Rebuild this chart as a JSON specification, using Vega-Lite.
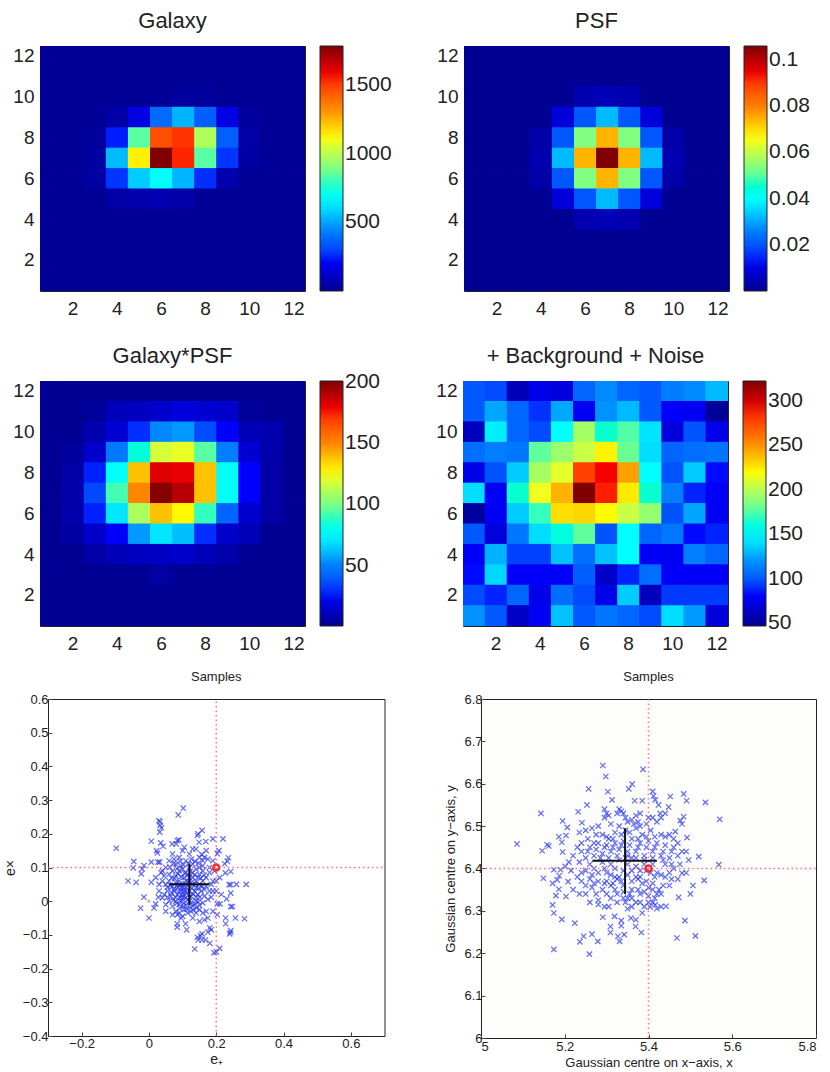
{"$schema":"https://vega.github.io/schema/vega-lite/v6.json","padding":{"left":1,"top":9,"right":0,"bottom":0},"background":"white",
"config":{"font":"Liberation Sans","title":{"font":"Liberation Sans","fontWeight":"normal","color":"#222"},"view":{"stroke":"#222","strokeWidth":1},
"axis":{"labelFont":"Liberation Sans","titleFont":"Liberation Sans","titleFontWeight":"normal","labelColor":"#222","titleColor":"#222","grid":false,"domain":false},
"legend":{"labelFont":"Liberation Sans","labelColor":"#222","labelFontSize":21,"labelOffset":11,"gradientThickness":23,"gradientStrokeColor":"#222","gradientStrokeWidth":1,"labelOverlap":false,"offset":15,"padding":0}},
"datasets":{
"g":[{"x":1,"y":12,"v":15},{"x":2,"y":12,"v":15},{"x":3,"y":12,"v":15},{"x":4,"y":12,"v":15},{"x":5,"y":12,"v":15},{"x":6,"y":12,"v":15},{"x":7,"y":12,"v":15},{"x":8,"y":12,"v":15},{"x":9,"y":12,"v":15},{"x":10,"y":12,"v":15},{"x":11,"y":12,"v":15},{"x":12,"y":12,"v":15},
{"x":1,"y":11,"v":15},{"x":2,"y":11,"v":15},{"x":3,"y":11,"v":15},{"x":4,"y":11,"v":15},{"x":5,"y":11,"v":15},{"x":6,"y":11,"v":15},{"x":7,"y":11,"v":15},{"x":8,"y":11,"v":15},{"x":9,"y":11,"v":15},{"x":10,"y":11,"v":15},{"x":11,"y":11,"v":15},{"x":12,"y":11,"v":15},
{"x":1,"y":10,"v":15},{"x":2,"y":10,"v":15},{"x":3,"y":10,"v":15},{"x":4,"y":10,"v":15},{"x":5,"y":10,"v":15},{"x":6,"y":10,"v":15},{"x":7,"y":10,"v":32},{"x":8,"y":10,"v":30},{"x":9,"y":10,"v":15},{"x":10,"y":10,"v":15},{"x":11,"y":10,"v":15},{"x":12,"y":10,"v":15},
{"x":1,"y":9,"v":15},{"x":2,"y":9,"v":15},{"x":3,"y":9,"v":15},{"x":4,"y":9,"v":50},{"x":5,"y":9,"v":170},{"x":6,"y":9,"v":390},{"x":7,"y":9,"v":530},{"x":8,"y":9,"v":360},{"x":9,"y":9,"v":170},{"x":10,"y":9,"v":30},{"x":11,"y":9,"v":15},{"x":12,"y":9,"v":15},
{"x":1,"y":8,"v":15},{"x":2,"y":8,"v":15},{"x":3,"y":8,"v":30},{"x":4,"y":8,"v":240},{"x":5,"y":8,"v":840},{"x":6,"y":8,"v":1470},{"x":7,"y":8,"v":1520},{"x":8,"y":8,"v":980},{"x":9,"y":8,"v":360},{"x":10,"y":8,"v":50},{"x":11,"y":8,"v":15},{"x":12,"y":8,"v":15},
{"x":1,"y":7,"v":15},{"x":2,"y":7,"v":15},{"x":3,"y":7,"v":40},{"x":4,"y":7,"v":540},{"x":5,"y":7,"v":1140},{"x":6,"y":7,"v":1785},{"x":7,"y":7,"v":1540},{"x":8,"y":7,"v":840},{"x":9,"y":7,"v":270},{"x":10,"y":7,"v":40},{"x":11,"y":7,"v":15},{"x":12,"y":7,"v":15},
{"x":1,"y":6,"v":15},{"x":2,"y":6,"v":15},{"x":3,"y":6,"v":40},{"x":4,"y":6,"v":270},{"x":5,"y":6,"v":570},{"x":6,"y":6,"v":680},{"x":7,"y":6,"v":530},{"x":8,"y":6,"v":260},{"x":9,"y":6,"v":60},{"x":10,"y":6,"v":15},{"x":11,"y":6,"v":15},{"x":12,"y":6,"v":15},
{"x":1,"y":5,"v":15},{"x":2,"y":5,"v":15},{"x":3,"y":5,"v":15},{"x":4,"y":5,"v":50},{"x":5,"y":5,"v":60},{"x":6,"y":5,"v":70},{"x":7,"y":5,"v":55},{"x":8,"y":5,"v":15},{"x":9,"y":5,"v":15},{"x":10,"y":5,"v":15},{"x":11,"y":5,"v":15},{"x":12,"y":5,"v":15},
{"x":1,"y":4,"v":15},{"x":2,"y":4,"v":15},{"x":3,"y":4,"v":15},{"x":4,"y":4,"v":15},{"x":5,"y":4,"v":15},{"x":6,"y":4,"v":15},{"x":7,"y":4,"v":15},{"x":8,"y":4,"v":15},{"x":9,"y":4,"v":15},{"x":10,"y":4,"v":15},{"x":11,"y":4,"v":15},{"x":12,"y":4,"v":15},
{"x":1,"y":3,"v":15},{"x":2,"y":3,"v":15},{"x":3,"y":3,"v":15},{"x":4,"y":3,"v":15},{"x":5,"y":3,"v":15},{"x":6,"y":3,"v":15},{"x":7,"y":3,"v":15},{"x":8,"y":3,"v":15},{"x":9,"y":3,"v":15},{"x":10,"y":3,"v":15},{"x":11,"y":3,"v":15},{"x":12,"y":3,"v":15},
{"x":1,"y":2,"v":15},{"x":2,"y":2,"v":15},{"x":3,"y":2,"v":15},{"x":4,"y":2,"v":15},{"x":5,"y":2,"v":15},{"x":6,"y":2,"v":15},{"x":7,"y":2,"v":15},{"x":8,"y":2,"v":15},{"x":9,"y":2,"v":15},{"x":10,"y":2,"v":15},{"x":11,"y":2,"v":15},{"x":12,"y":2,"v":15},
{"x":1,"y":1,"v":15},{"x":2,"y":1,"v":15},{"x":3,"y":1,"v":15},{"x":4,"y":1,"v":15},{"x":5,"y":1,"v":15},{"x":6,"y":1,"v":15},{"x":7,"y":1,"v":15},{"x":8,"y":1,"v":15},{"x":9,"y":1,"v":15},{"x":10,"y":1,"v":15},{"x":11,"y":1,"v":15},{"x":12,"y":1,"v":15}],
"p":[{"x":1,"y":12,"v":0.0005},{"x":2,"y":12,"v":0.0005},{"x":3,"y":12,"v":0.0005},{"x":4,"y":12,"v":0.0005},{"x":5,"y":12,"v":0.0005},{"x":6,"y":12,"v":0.0005},{"x":7,"y":12,"v":0.0005},{"x":8,"y":12,"v":0.0005},{"x":9,"y":12,"v":0.0005},{"x":10,"y":12,"v":0.0005},{"x":11,"y":12,"v":0.0005},{"x":12,"y":12,"v":0.0005},
{"x":1,"y":11,"v":0.0005},{"x":2,"y":11,"v":0.0005},{"x":3,"y":11,"v":0.0005},{"x":4,"y":11,"v":0.0005},{"x":5,"y":11,"v":0.0005},{"x":6,"y":11,"v":0.0005},{"x":7,"y":11,"v":0.0005},{"x":8,"y":11,"v":0.0005},{"x":9,"y":11,"v":0.0005},{"x":10,"y":11,"v":0.0005},{"x":11,"y":11,"v":0.0005},{"x":12,"y":11,"v":0.0005},
{"x":1,"y":10,"v":0.0005},{"x":2,"y":10,"v":0.0005},{"x":3,"y":10,"v":0.0005},{"x":4,"y":10,"v":0.0005},{"x":5,"y":10,"v":0.0005},{"x":6,"y":10,"v":0.004},{"x":7,"y":10,"v":0.005},{"x":8,"y":10,"v":0.004},{"x":9,"y":10,"v":0.0005},{"x":10,"y":10,"v":0.0005},{"x":11,"y":10,"v":0.0005},{"x":12,"y":10,"v":0.0005},
{"x":1,"y":9,"v":0.0005},{"x":2,"y":9,"v":0.0005},{"x":3,"y":9,"v":0.0005},{"x":4,"y":9,"v":0.0005},{"x":5,"y":9,"v":0.009},{"x":6,"y":9,"v":0.02},{"x":7,"y":9,"v":0.032},{"x":8,"y":9,"v":0.02},{"x":9,"y":9,"v":0.009},{"x":10,"y":9,"v":0.0005},{"x":11,"y":9,"v":0.0005},{"x":12,"y":9,"v":0.0005},
{"x":1,"y":8,"v":0.0005},{"x":2,"y":8,"v":0.0005},{"x":3,"y":8,"v":0.0005},{"x":4,"y":8,"v":0.003},{"x":5,"y":8,"v":0.02},{"x":6,"y":8,"v":0.053},{"x":7,"y":8,"v":0.074},{"x":8,"y":8,"v":0.053},{"x":9,"y":8,"v":0.02},{"x":10,"y":8,"v":0.003},{"x":11,"y":8,"v":0.0005},{"x":12,"y":8,"v":0.0005},
{"x":1,"y":7,"v":0.0005},{"x":2,"y":7,"v":0.0005},{"x":3,"y":7,"v":0.0005},{"x":4,"y":7,"v":0.004},{"x":5,"y":7,"v":0.032},{"x":6,"y":7,"v":0.074},{"x":7,"y":7,"v":0.106},{"x":8,"y":7,"v":0.074},{"x":9,"y":7,"v":0.032},{"x":10,"y":7,"v":0.004},{"x":11,"y":7,"v":0.0005},{"x":12,"y":7,"v":0.0005},
{"x":1,"y":6,"v":0.0005},{"x":2,"y":6,"v":0.0005},{"x":3,"y":6,"v":0.0005},{"x":4,"y":6,"v":0.003},{"x":5,"y":6,"v":0.02},{"x":6,"y":6,"v":0.053},{"x":7,"y":6,"v":0.074},{"x":8,"y":6,"v":0.053},{"x":9,"y":6,"v":0.02},{"x":10,"y":6,"v":0.003},{"x":11,"y":6,"v":0.0005},{"x":12,"y":6,"v":0.0005},
{"x":1,"y":5,"v":0.0005},{"x":2,"y":5,"v":0.0005},{"x":3,"y":5,"v":0.0005},{"x":4,"y":5,"v":0.0005},{"x":5,"y":5,"v":0.009},{"x":6,"y":5,"v":0.02},{"x":7,"y":5,"v":0.032},{"x":8,"y":5,"v":0.02},{"x":9,"y":5,"v":0.009},{"x":10,"y":5,"v":0.0005},{"x":11,"y":5,"v":0.0005},{"x":12,"y":5,"v":0.0005},
{"x":1,"y":4,"v":0.0005},{"x":2,"y":4,"v":0.0005},{"x":3,"y":4,"v":0.0005},{"x":4,"y":4,"v":0.0005},{"x":5,"y":4,"v":0.0005},{"x":6,"y":4,"v":0.004},{"x":7,"y":4,"v":0.005},{"x":8,"y":4,"v":0.004},{"x":9,"y":4,"v":0.0005},{"x":10,"y":4,"v":0.0005},{"x":11,"y":4,"v":0.0005},{"x":12,"y":4,"v":0.0005},
{"x":1,"y":3,"v":0.0005},{"x":2,"y":3,"v":0.0005},{"x":3,"y":3,"v":0.0005},{"x":4,"y":3,"v":0.0005},{"x":5,"y":3,"v":0.0005},{"x":6,"y":3,"v":0.0005},{"x":7,"y":3,"v":0.0005},{"x":8,"y":3,"v":0.0005},{"x":9,"y":3,"v":0.0005},{"x":10,"y":3,"v":0.0005},{"x":11,"y":3,"v":0.0005},{"x":12,"y":3,"v":0.0005},
{"x":1,"y":2,"v":0.0005},{"x":2,"y":2,"v":0.0005},{"x":3,"y":2,"v":0.0005},{"x":4,"y":2,"v":0.0005},{"x":5,"y":2,"v":0.0005},{"x":6,"y":2,"v":0.0005},{"x":7,"y":2,"v":0.0005},{"x":8,"y":2,"v":0.0005},{"x":9,"y":2,"v":0.0005},{"x":10,"y":2,"v":0.0005},{"x":11,"y":2,"v":0.0005},{"x":12,"y":2,"v":0.0005},
{"x":1,"y":1,"v":0.0005},{"x":2,"y":1,"v":0.0005},{"x":3,"y":1,"v":0.0005},{"x":4,"y":1,"v":0.0005},{"x":5,"y":1,"v":0.0005},{"x":6,"y":1,"v":0.0005},{"x":7,"y":1,"v":0.0005},{"x":8,"y":1,"v":0.0005},{"x":9,"y":1,"v":0.0005},{"x":10,"y":1,"v":0.0005},{"x":11,"y":1,"v":0.0005},{"x":12,"y":1,"v":0.0005}],
"c":[{"x":1,"y":12,"v":2},{"x":2,"y":12,"v":2},{"x":3,"y":12,"v":2},{"x":4,"y":12,"v":2},{"x":5,"y":12,"v":2},{"x":6,"y":12,"v":2},{"x":7,"y":12,"v":2},{"x":8,"y":12,"v":2},{"x":9,"y":12,"v":2},{"x":10,"y":12,"v":2},{"x":11,"y":12,"v":2},{"x":12,"y":12,"v":2},
{"x":1,"y":11,"v":2},{"x":2,"y":11,"v":2},{"x":3,"y":11,"v":3},{"x":4,"y":11,"v":10},{"x":5,"y":11,"v":12},{"x":6,"y":11,"v":14},{"x":7,"y":11,"v":18},{"x":8,"y":11,"v":16},{"x":9,"y":11,"v":14},{"x":10,"y":11,"v":3},{"x":11,"y":11,"v":2},{"x":12,"y":11,"v":2},
{"x":1,"y":10,"v":2},{"x":2,"y":10,"v":2},{"x":3,"y":10,"v":8},{"x":4,"y":10,"v":16},{"x":5,"y":10,"v":30},{"x":6,"y":10,"v":52},{"x":7,"y":10,"v":55},{"x":8,"y":10,"v":36},{"x":9,"y":10,"v":25},{"x":10,"y":10,"v":10},{"x":11,"y":10,"v":8},{"x":12,"y":10,"v":2},
{"x":1,"y":9,"v":2},{"x":2,"y":9,"v":4},{"x":3,"y":9,"v":14},{"x":4,"y":9,"v":48},{"x":5,"y":9,"v":85},{"x":6,"y":9,"v":118},{"x":7,"y":9,"v":122},{"x":8,"y":9,"v":95},{"x":9,"y":9,"v":50},{"x":10,"y":9,"v":16},{"x":11,"y":9,"v":7},{"x":12,"y":9,"v":2},
{"x":1,"y":8,"v":2},{"x":2,"y":8,"v":6},{"x":3,"y":8,"v":28},{"x":4,"y":8,"v":78},{"x":5,"y":8,"v":138},{"x":6,"y":8,"v":182},{"x":7,"y":8,"v":180},{"x":8,"y":8,"v":138},{"x":9,"y":8,"v":78},{"x":10,"y":8,"v":25},{"x":11,"y":8,"v":6},{"x":12,"y":8,"v":2},
{"x":1,"y":7,"v":2},{"x":2,"y":7,"v":7},{"x":3,"y":7,"v":35},{"x":4,"y":7,"v":92},{"x":5,"y":7,"v":150},{"x":6,"y":7,"v":200},{"x":7,"y":7,"v":190},{"x":8,"y":7,"v":138},{"x":9,"y":7,"v":78},{"x":10,"y":7,"v":25},{"x":11,"y":7,"v":6},{"x":12,"y":7,"v":2},
{"x":1,"y":6,"v":2},{"x":2,"y":6,"v":7},{"x":3,"y":6,"v":28},{"x":4,"y":6,"v":70},{"x":5,"y":6,"v":110},{"x":6,"y":6,"v":138},{"x":7,"y":6,"v":127},{"x":8,"y":6,"v":90},{"x":9,"y":6,"v":42},{"x":10,"y":6,"v":15},{"x":11,"y":6,"v":6},{"x":12,"y":6,"v":2},
{"x":1,"y":5,"v":2},{"x":2,"y":5,"v":5},{"x":3,"y":5,"v":14},{"x":4,"y":5,"v":25},{"x":5,"y":5,"v":55},{"x":6,"y":5,"v":70},{"x":7,"y":5,"v":62},{"x":8,"y":5,"v":30},{"x":9,"y":5,"v":14},{"x":10,"y":5,"v":10},{"x":11,"y":5,"v":2},{"x":12,"y":5,"v":2},
{"x":1,"y":4,"v":2},{"x":2,"y":4,"v":2},{"x":3,"y":4,"v":6},{"x":4,"y":4,"v":10},{"x":5,"y":4,"v":12},{"x":6,"y":4,"v":13},{"x":7,"y":4,"v":14},{"x":8,"y":4,"v":10},{"x":9,"y":4,"v":7},{"x":10,"y":4,"v":2},{"x":11,"y":4,"v":2},{"x":12,"y":4,"v":2},
{"x":1,"y":3,"v":2},{"x":2,"y":3,"v":2},{"x":3,"y":3,"v":2},{"x":4,"y":3,"v":2},{"x":5,"y":3,"v":2},{"x":6,"y":3,"v":5},{"x":7,"y":3,"v":2},{"x":8,"y":3,"v":2},{"x":9,"y":3,"v":2},{"x":10,"y":3,"v":2},{"x":11,"y":3,"v":2},{"x":12,"y":3,"v":2},
{"x":1,"y":2,"v":2},{"x":2,"y":2,"v":2},{"x":3,"y":2,"v":2},{"x":4,"y":2,"v":2},{"x":5,"y":2,"v":2},{"x":6,"y":2,"v":2},{"x":7,"y":2,"v":2},{"x":8,"y":2,"v":2},{"x":9,"y":2,"v":2},{"x":10,"y":2,"v":2},{"x":11,"y":2,"v":2},{"x":12,"y":2,"v":2},
{"x":1,"y":1,"v":2},{"x":2,"y":1,"v":2},{"x":3,"y":1,"v":2},{"x":4,"y":1,"v":2},{"x":5,"y":1,"v":2},{"x":6,"y":1,"v":2},{"x":7,"y":1,"v":2},{"x":8,"y":1,"v":2},{"x":9,"y":1,"v":2},{"x":10,"y":1,"v":2},{"x":11,"y":1,"v":2},{"x":12,"y":1,"v":2}],
"n":[{"x":1,"y":12,"v":100},{"x":2,"y":12,"v":95},{"x":3,"y":12,"v":60},{"x":4,"y":12,"v":75},{"x":5,"y":12,"v":72},{"x":6,"y":12,"v":105},{"x":7,"y":12,"v":118},{"x":8,"y":12,"v":105},{"x":9,"y":12,"v":100},{"x":10,"y":12,"v":115},{"x":11,"y":12,"v":118},{"x":12,"y":12,"v":130},
{"x":1,"y":11,"v":100},{"x":2,"y":11,"v":125},{"x":3,"y":11,"v":105},{"x":4,"y":11,"v":88},{"x":5,"y":11,"v":125},{"x":6,"y":11,"v":78},{"x":7,"y":11,"v":120},{"x":8,"y":11,"v":130},{"x":9,"y":11,"v":100},{"x":10,"y":11,"v":80},{"x":11,"y":11,"v":78},{"x":12,"y":11,"v":50},
{"x":1,"y":10,"v":62},{"x":2,"y":10,"v":145},{"x":3,"y":10,"v":105},{"x":4,"y":10,"v":95},{"x":5,"y":10,"v":150},{"x":6,"y":10,"v":195},{"x":7,"y":10,"v":165},{"x":8,"y":10,"v":175},{"x":9,"y":10,"v":142},{"x":10,"y":10,"v":72},{"x":11,"y":10,"v":98},{"x":12,"y":10,"v":75},
{"x":1,"y":9,"v":108},{"x":2,"y":9,"v":115},{"x":3,"y":9,"v":112},{"x":4,"y":9,"v":178},{"x":5,"y":9,"v":192},{"x":6,"y":9,"v":205},{"x":7,"y":9,"v":222},{"x":8,"y":9,"v":180},{"x":9,"y":9,"v":140},{"x":10,"y":9,"v":105},{"x":11,"y":9,"v":108},{"x":12,"y":9,"v":110},
{"x":1,"y":8,"v":75},{"x":2,"y":8,"v":98},{"x":3,"y":8,"v":135},{"x":4,"y":8,"v":195},{"x":5,"y":8,"v":212},{"x":6,"y":8,"v":278},{"x":7,"y":8,"v":290},{"x":8,"y":8,"v":245},{"x":9,"y":8,"v":150},{"x":10,"y":8,"v":98},{"x":11,"y":8,"v":135},{"x":12,"y":8,"v":82},
{"x":1,"y":7,"v":140},{"x":2,"y":7,"v":78},{"x":3,"y":7,"v":165},{"x":4,"y":7,"v":215},{"x":5,"y":7,"v":240},{"x":6,"y":7,"v":322},{"x":7,"y":7,"v":285},{"x":8,"y":7,"v":225},{"x":9,"y":7,"v":165},{"x":10,"y":7,"v":115},{"x":11,"y":7,"v":85},{"x":12,"y":7,"v":80},
{"x":1,"y":6,"v":52},{"x":2,"y":6,"v":78},{"x":3,"y":6,"v":135},{"x":4,"y":6,"v":170},{"x":5,"y":6,"v":228},{"x":6,"y":6,"v":230},{"x":7,"y":6,"v":220},{"x":8,"y":6,"v":205},{"x":9,"y":6,"v":190},{"x":10,"y":6,"v":98},{"x":11,"y":6,"v":125},{"x":12,"y":6,"v":78},
{"x":1,"y":5,"v":100},{"x":2,"y":5,"v":72},{"x":3,"y":5,"v":112},{"x":4,"y":5,"v":140},{"x":5,"y":5,"v":160},{"x":6,"y":5,"v":178},{"x":7,"y":5,"v":98},{"x":8,"y":5,"v":150},{"x":9,"y":5,"v":105},{"x":10,"y":5,"v":112},{"x":11,"y":5,"v":82},{"x":12,"y":5,"v":85},
{"x":1,"y":4,"v":80},{"x":2,"y":4,"v":128},{"x":3,"y":4,"v":92},{"x":4,"y":4,"v":92},{"x":5,"y":4,"v":132},{"x":6,"y":4,"v":108},{"x":7,"y":4,"v":132},{"x":8,"y":4,"v":150},{"x":9,"y":4,"v":80},{"x":10,"y":4,"v":78},{"x":11,"y":4,"v":115},{"x":12,"y":4,"v":105},
{"x":1,"y":3,"v":82},{"x":2,"y":3,"v":138},{"x":3,"y":3,"v":80},{"x":4,"y":3,"v":80},{"x":5,"y":3,"v":80},{"x":6,"y":3,"v":102},{"x":7,"y":3,"v":65},{"x":8,"y":3,"v":85},{"x":9,"y":3,"v":108},{"x":10,"y":3,"v":80},{"x":11,"y":3,"v":80},{"x":12,"y":3,"v":80},
{"x":1,"y":2,"v":95},{"x":2,"y":2,"v":85},{"x":3,"y":2,"v":105},{"x":4,"y":2,"v":75},{"x":5,"y":2,"v":108},{"x":6,"y":2,"v":95},{"x":7,"y":2,"v":75},{"x":8,"y":2,"v":135},{"x":9,"y":2,"v":62},{"x":10,"y":2,"v":90},{"x":11,"y":2,"v":90},{"x":12,"y":2,"v":90},
{"x":1,"y":1,"v":120},{"x":2,"y":1,"v":100},{"x":3,"y":1,"v":65},{"x":4,"y":1,"v":78},{"x":5,"y":1,"v":132},{"x":6,"y":1,"v":100},{"x":7,"y":1,"v":112},{"x":8,"y":1,"v":105},{"x":9,"y":1,"v":95},{"x":10,"y":1,"v":140},{"x":11,"y":1,"v":122},{"x":12,"y":1,"v":70}],
"s1":[{"x":0.102,"y":0.276},{"x":0.087,"y":0.256},{"x":0.03,"y":0.239},{"x":0.033,"y":0.235},{"x":0.033,"y":0.225},{"x":0.037,"y":0.218},{"x":0.032,"y":0.205},{"x":-0.097,"y":0.157},{"x":0.007,"y":0.178},{"x":0.035,"y":0.173},{"x":0.042,"y":0.163},{"x":0.023,"y":0.15},{"x":0.025,"y":0.143},{"x":0.069,"y":0.17},{"x":0.084,"y":0.18},{"x":0.089,"y":0.182},{"x":0.081,"y":0.17},{"x":0.158,"y":0.21},{"x":0.146,"y":0.2},{"x":0.144,"y":0.195},{"x":0.149,"y":0.175},{"x":0.169,"y":0.177},{"x":0.19,"y":0.185},{"x":0.22,"y":0.185},{"x":-0.045,"y":0.118},{"x":-0.047,"y":0.099},{"x":-0.015,"y":0.106},{"x":-0.02,"y":0.096},{"x":-0.023,"y":0.081},{"x":0.007,"y":0.116},{"x":0.027,"y":0.116},{"x":0.032,"y":0.116},{"x":-0.062,"y":0.06},{"x":-0.038,"y":0.056},{"x":0.007,"y":0.056},{"x":-0.015,"y":0.012},{"x":-0.025,"y":-0.021},{"x":0,"y":-0.05},{"x":0.015,"y":-0.02},{"x":0.02,"y":-0.008},{"x":0.236,"y":0.129},{"x":0.233,"y":0.119},{"x":0.225,"y":0.111},{"x":0.243,"y":0.088},{"x":0.227,"y":0.084},{"x":0.208,"y":0.15},{"x":0.203,"y":0.141},{"x":0.243,"y":0.049},{"x":0.238,"y":0.049},{"x":0.26,"y":0.05},{"x":0.289,"y":0.05},{"x":0.243,"y":0.024},{"x":0.231,"y":0.007},{"x":0.243,"y":-0.016},{"x":0.248,"y":-0.016},{"x":0.203,"y":-0.008},{"x":0.211,"y":-0.008},{"x":0.257,"y":-0.05},{"x":0.284,"y":-0.052},{"x":0.228,"y":-0.05},{"x":0.228,"y":-0.067},{"x":0.203,"y":-0.04},{"x":0.243,"y":-0.087},{"x":0.24,"y":-0.097},{"x":0.242,"y":-0.092},{"x":0.181,"y":-0.079},{"x":0.185,"y":-0.085},{"x":0.175,"y":-0.092},{"x":0.153,"y":-0.102},{"x":0.158,"y":-0.097},{"x":0.144,"y":-0.107},{"x":0.146,"y":-0.115},{"x":0.158,"y":-0.115},{"x":0.168,"y":-0.115},{"x":0.181,"y":-0.125},{"x":0.136,"y":-0.142},{"x":0.21,"y":-0.14},{"x":0.193,"y":-0.153},{"x":0.2,"y":-0.151},{"x":0.112,"y":-0.085},{"x":0.084,"y":-0.077},{"x":0.084,"y":-0.067},{"x":0.109,"y":-0.067},{"x":0.095,"y":-0.05},{"x":0.085,"y":-0.04},{"x":0.1,"y":-0.045},{"x":0.15,"y":-0.06},{"x":0.165,"y":-0.055},{"x":0.175,"y":-0.05},{"x":0.19,"y":-0.03},{"x":0.17,"y":-0.03},
{"x":0.05,"y":0.1},{"x":0.06,"y":0.12},{"x":0.07,"y":0.14},{"x":0.08,"y":0.11},{"x":0.09,"y":0.13},{"x":0.1,"y":0.15},{"x":0.11,"y":0.12},{"x":0.12,"y":0.14},{"x":0.13,"y":0.11},{"x":0.14,"y":0.155},{"x":0.15,"y":0.13},{"x":0.16,"y":0.12},{"x":0.17,"y":0.15},{"x":0.18,"y":0.1},{"x":0.06,"y":0.08},{"x":0.07,"y":0.09},{"x":0.08,"y":0.075},{"x":0.09,"y":0.09},{"x":0.1,"y":0.095},{"x":0.11,"y":0.085},{"x":0.12,"y":0.1},{"x":0.13,"y":0.085},{"x":0.14,"y":0.095},{"x":0.15,"y":0.08},{"x":0.16,"y":0.09},{"x":0.17,"y":0.07},{"x":0.18,"y":0.085},{"x":0.19,"y":0.06},{"x":0.04,"y":0.06},{"x":0.05,"y":0.05},{"x":0.06,"y":0.06},{"x":0.07,"y":0.045},{"x":0.08,"y":0.055},{"x":0.09,"y":0.06},{"x":0.1,"y":0.05},{"x":0.11,"y":0.06},{"x":0.12,"y":0.07},{"x":0.13,"y":0.05},{"x":0.14,"y":0.06},{"x":0.15,"y":0.05},{"x":0.16,"y":0.06},{"x":0.17,"y":0.045},{"x":0.18,"y":0.03},{"x":0.19,"y":0.03},{"x":0.2,"y":0.03},{"x":0.03,"y":0.03},{"x":0.045,"y":0.02},{"x":0.055,"y":0.03},{"x":0.065,"y":0.015},{"x":0.075,"y":0.03},{"x":0.085,"y":0.02},{"x":0.095,"y":0.03},{"x":0.105,"y":0.02},{"x":0.115,"y":0.035},{"x":0.125,"y":0.015},{"x":0.135,"y":0.03},{"x":0.145,"y":0.02},{"x":0.155,"y":0.03},{"x":0.165,"y":0.015},{"x":0.175,"y":0.005},{"x":0.05,"y":-0.01},{"x":0.06,"y":0},{"x":0.07,"y":-0.015},{"x":0.08,"y":0},{"x":0.09,"y":-0.01},{"x":0.1,"y":0.005},{"x":0.11,"y":-0.012},{"x":0.12,"y":0},{"x":0.13,"y":-0.015},{"x":0.14,"y":0.002},{"x":0.15,"y":-0.012},{"x":0.16,"y":-0.005},{"x":0.08,"y":-0.03},{"x":0.09,"y":-0.035},{"x":0.105,"y":-0.025},{"x":0.115,"y":-0.035},{"x":0.125,"y":-0.03},{"x":0.14,"y":-0.035},{"x":0.15,"y":-0.025},{"x":0.16,"y":-0.035},{"x":0.05,"y":-0.03},{"x":0.04,"y":0.01},{"x":0.03,"y":0.05},{"x":0.02,"y":0.07},{"x":0.04,"y":0.09},{"x":0.075,"y":0.125},{"x":0.095,"y":0.105},{"x":0.105,"y":0.07},{"x":0.115,"y":0.045},{"x":0.125,"y":0.055},{"x":0.095,"y":0.04},{"x":0.085,"y":0.04},{"x":0.105,"y":0.035},{"x":0.1,"y":0.012},{"x":0.11,"y":0.01},{"x":0.09,"y":0.01},{"x":0.12,"y":0.03},{"x":0.13,"y":0.07},{"x":0.14,"y":0.04},{"x":0.15,"y":0.1},{"x":0.16,"y":0.105},{"x":0.175,"y":0.125},{"x":0.19,"y":0.12},{"x":0.2,"y":0.06},{"x":0.21,"y":0.07},{"x":0.215,"y":0.02},
{"x":0.062,"y":0.101},{"x":0.073,"y":0.112},{"x":0.084,"y":0.097},{"x":0.093,"y":0.118},{"x":0.103,"y":0.108},{"x":0.117,"y":0.112},{"x":0.126,"y":0.125},{"x":0.137,"y":0.118},{"x":0.147,"y":0.113},{"x":0.157,"y":0.139},{"x":0.067,"y":0.069},{"x":0.076,"y":0.067},{"x":0.086,"y":0.081},{"x":0.096,"y":0.073},{"x":0.106,"y":0.083},{"x":0.116,"y":0.078},{"x":0.123,"y":0.088},{"x":0.136,"y":0.078},{"x":0.146,"y":0.071},{"x":0.154,"y":0.068},{"x":0.164,"y":0.077},{"x":0.055,"y":0.041},{"x":0.064,"y":0.047},{"x":0.074,"y":0.036},{"x":0.083,"y":0.046},{"x":0.092,"y":0.049},{"x":0.102,"y":0.041},{"x":0.108,"y":0.052},{"x":0.118,"y":0.056},{"x":0.128,"y":0.039},{"x":0.137,"y":0.051},{"x":0.147,"y":0.038},{"x":0.158,"y":0.044},{"x":0.068,"y":0.024},{"x":0.079,"y":0.012},{"x":0.088,"y":0.028},{"x":0.098,"y":0.018},{"x":0.103,"y":0.028},{"x":0.112,"y":0.024},{"x":0.121,"y":0.012},{"x":0.131,"y":0.021},{"x":0.141,"y":0.012},{"x":0.151,"y":0.012},{"x":0.072,"y":0.003},{"x":0.083,"y":-0.006},{"x":0.094,"y":0},{"x":0.104,"y":-0.006},{"x":0.116,"y":0.004},{"x":0.126,"y":-0.004},{"x":0.136,"y":-0.008},{"x":0.146,"y":-0.002},{"x":0.092,"y":-0.021},{"x":0.102,"y":-0.015},{"x":0.112,"y":-0.024},{"x":0.122,"y":-0.018},{"x":0.132,"y":-0.026},{"x":0.142,"y":-0.02},{"x":0.045,"y":0.075},{"x":0.036,"y":0.085},{"x":0.028,"y":0.012},{"x":0.055,"y":0.012},{"x":0.07,"y":-0.04},{"x":0.13,"y":-0.05},{"x":0.185,"y":0.012},{"x":0.165,"y":0.035},{"x":0.185,"y":0.05},{"x":0.195,"y":0.09},{"x":0.165,"y":0.13},{"x":0.13,"y":0.155},{"x":0.105,"y":0.16}],
"s2":[{"x":5.291,"y":6.643},{"x":5.387,"y":6.634},{"x":5.298,"y":6.617},{"x":5.257,"y":6.588},{"x":5.303,"y":6.581},{"x":5.313,"y":6.562},{"x":5.361,"y":6.599},{"x":5.353,"y":6.588},{"x":5.41,"y":6.582},{"x":5.412,"y":6.571},{"x":5.416,"y":6.562},{"x":5.452,"y":6.57},{"x":5.484,"y":6.576},{"x":5.491,"y":6.56},{"x":5.536,"y":6.556},{"x":5.367,"y":6.56},{"x":5.385,"y":6.56},{"x":5.253,"y":6.55},{"x":5.232,"y":6.534},{"x":5.143,"y":6.53},{"x":5.195,"y":6.512},{"x":5.206,"y":6.497},{"x":5.241,"y":6.508},{"x":5.57,"y":6.516},{"x":5.448,"y":6.545},{"x":5.424,"y":6.55},{"x":5.428,"y":6.53},{"x":5.484,"y":6.522},{"x":5.476,"y":6.513},{"x":5.48,"y":6.505},{"x":5.464,"y":6.487},{"x":5.492,"y":6.473},{"x":5.086,"y":6.458},{"x":5.146,"y":6.442},{"x":5.158,"y":6.456},{"x":5.162,"y":6.453},{"x":5.186,"y":6.475},{"x":5.193,"y":6.462},{"x":5.203,"y":6.478},{"x":5.195,"y":6.439},{"x":5.149,"y":6.377},{"x":5.171,"y":6.365},{"x":5.182,"y":6.373},{"x":5.174,"y":6.397},{"x":5.19,"y":6.397},{"x":5.201,"y":6.405},{"x":5.187,"y":6.383},{"x":5.186,"y":6.351},{"x":5.208,"y":6.369},{"x":5.203,"y":6.334},{"x":5.179,"y":6.336},{"x":5.171,"y":6.314},{"x":5.174,"y":6.295},{"x":5.193,"y":6.28},{"x":5.224,"y":6.271},{"x":5.174,"y":6.209},{"x":5.259,"y":6.198},{"x":5.236,"y":6.227},{"x":5.245,"y":6.24},{"x":5.265,"y":6.245},{"x":5.279,"y":6.228},{"x":5.291,"y":6.285},{"x":5.319,"y":6.287},{"x":5.309,"y":6.263},{"x":5.309,"y":6.249},{"x":5.335,"y":6.277},{"x":5.335,"y":6.265},{"x":5.327,"y":6.24},{"x":5.342,"y":6.244},{"x":5.331,"y":6.228},{"x":5.358,"y":6.283},{"x":5.37,"y":6.279},{"x":5.369,"y":6.263},{"x":5.383,"y":6.249},{"x":5.468,"y":6.236},{"x":5.512,"y":6.241},{"x":5.487,"y":6.277},{"x":5.472,"y":6.332},{"x":5.5,"y":6.34},{"x":5.506,"y":6.36},{"x":5.533,"y":6.372},{"x":5.48,"y":6.389},{"x":5.568,"y":6.409},{"x":5.52,"y":6.428},{"x":5.496,"y":6.42},{"x":5.442,"y":6.311},{"x":5.416,"y":6.314},{"x":5.404,"y":6.309},{"x":5.385,"y":6.295},
{"x":5.3,"y":6.53},{"x":5.295,"y":6.52},{"x":5.33,"y":6.54},{"x":5.335,"y":6.535},{"x":5.34,"y":6.53},{"x":5.37,"y":6.525},{"x":5.38,"y":6.53},{"x":5.36,"y":6.515},{"x":5.35,"y":6.51},{"x":5.4,"y":6.52},{"x":5.42,"y":6.51},{"x":5.44,"y":6.53},{"x":5.31,"y":6.505},{"x":5.28,"y":6.5},{"x":5.265,"y":6.495},{"x":5.25,"y":6.49},{"x":5.235,"y":6.485},{"x":5.29,"y":6.48},{"x":5.32,"y":6.485},{"x":5.345,"y":6.49},{"x":5.37,"y":6.495},{"x":5.385,"y":6.48},{"x":5.405,"y":6.49},{"x":5.43,"y":6.48},{"x":5.45,"y":6.48},{"x":5.47,"y":6.46},{"x":5.49,"y":6.44},{"x":5.48,"y":6.44},{"x":5.46,"y":6.45},{"x":5.44,"y":6.455},{"x":5.42,"y":6.46},{"x":5.4,"y":6.465},{"x":5.38,"y":6.46},{"x":5.36,"y":6.47},{"x":5.34,"y":6.465},{"x":5.32,"y":6.46},{"x":5.3,"y":6.455},{"x":5.28,"y":6.46},{"x":5.26,"y":6.45},{"x":5.24,"y":6.44},{"x":5.22,"y":6.43},{"x":5.25,"y":6.425},{"x":5.27,"y":6.43},{"x":5.29,"y":6.435},{"x":5.31,"y":6.44},{"x":5.33,"y":6.445},{"x":5.35,"y":6.44},{"x":5.37,"y":6.44},{"x":5.39,"y":6.43},{"x":5.41,"y":6.44},{"x":5.43,"y":6.43},{"x":5.45,"y":6.425},{"x":5.47,"y":6.43},{"x":5.44,"y":6.41},{"x":5.46,"y":6.4},{"x":5.42,"y":6.39},{"x":5.44,"y":6.38},{"x":5.45,"y":6.39},{"x":5.41,"y":6.41},{"x":5.39,"y":6.41},{"x":5.37,"y":6.405},{"x":5.35,"y":6.41},{"x":5.33,"y":6.42},{"x":5.31,"y":6.41},{"x":5.29,"y":6.415},{"x":5.27,"y":6.4},{"x":5.25,"y":6.395},{"x":5.23,"y":6.38},{"x":5.215,"y":6.395},{"x":5.24,"y":6.37},{"x":5.26,"y":6.375},{"x":5.28,"y":6.37},{"x":5.3,"y":6.37},{"x":5.32,"y":6.38},{"x":5.325,"y":6.375},{"x":5.33,"y":6.38},{"x":5.35,"y":6.385},{"x":5.37,"y":6.38},{"x":5.375,"y":6.375},{"x":5.38,"y":6.38},{"x":5.395,"y":6.37},{"x":5.41,"y":6.365},{"x":5.425,"y":6.35},{"x":5.42,"y":6.34},{"x":5.41,"y":6.35},{"x":5.4,"y":6.335},{"x":5.38,"y":6.34},{"x":5.36,"y":6.35},{"x":5.34,"y":6.36},{"x":5.32,"y":6.35},{"x":5.31,"y":6.36},{"x":5.29,"y":6.35},{"x":5.265,"y":6.355},{"x":5.25,"y":6.34},{"x":5.235,"y":6.34},{"x":5.22,"y":6.35},{"x":5.26,"y":6.32},{"x":5.28,"y":6.315},{"x":5.295,"y":6.31},{"x":5.31,"y":6.33},{"x":5.34,"y":6.33},{"x":5.345,"y":6.32},{"x":5.36,"y":6.31},{"x":5.37,"y":6.32},{"x":5.39,"y":6.31},{"x":5.41,"y":6.32},{"x":5.43,"y":6.31},{"x":5.305,"y":6.47},{"x":5.33,"y":6.5},{"x":5.38,"y":6.5},{"x":5.35,"y":6.43},{"x":5.36,"y":6.425},{"x":5.3,"y":6.39},{"x":5.31,"y":6.385},{"x":5.28,"y":6.39},{"x":5.34,"y":6.345},{"x":5.395,"y":6.395},{"x":5.4,"y":6.355},{"x":5.45,"y":6.36},{"x":5.47,"y":6.375},{"x":5.49,"y":6.39},{"x":5.27,"y":6.46},{"x":5.24,"y":6.46},
{"x":5.295,"y":6.54},{"x":5.305,"y":6.525},{"x":5.325,"y":6.53},{"x":5.345,"y":6.52},{"x":5.365,"y":6.505},{"x":5.375,"y":6.51},{"x":5.395,"y":6.505},{"x":5.41,"y":6.52},{"x":5.43,"y":6.52},{"x":5.46,"y":6.47},{"x":5.275,"y":6.48},{"x":5.255,"y":6.47},{"x":5.3,"y":6.475},{"x":5.315,"y":6.47},{"x":5.335,"y":6.48},{"x":5.355,"y":6.485},{"x":5.375,"y":6.47},{"x":5.395,"y":6.475},{"x":5.415,"y":6.475},{"x":5.44,"y":6.475},{"x":5.23,"y":6.45},{"x":5.255,"y":6.44},{"x":5.275,"y":6.445},{"x":5.295,"y":6.45},{"x":5.315,"y":6.45},{"x":5.335,"y":6.455},{"x":5.355,"y":6.455},{"x":5.375,"y":6.45},{"x":5.395,"y":6.45},{"x":5.415,"y":6.45},{"x":5.435,"y":6.44},{"x":5.455,"y":6.44},{"x":5.21,"y":6.415},{"x":5.235,"y":6.415},{"x":5.26,"y":6.41},{"x":5.285,"y":6.425},{"x":5.305,"y":6.425},{"x":5.325,"y":6.43},{"x":5.345,"y":6.425},{"x":5.37,"y":6.425},{"x":5.39,"y":6.42},{"x":5.41,"y":6.425},{"x":5.435,"y":6.42},{"x":5.455,"y":6.41},{"x":5.475,"y":6.41},{"x":5.24,"y":6.39},{"x":5.265,"y":6.385},{"x":5.295,"y":6.4},{"x":5.32,"y":6.4},{"x":5.34,"y":6.395},{"x":5.36,"y":6.395},{"x":5.38,"y":6.395},{"x":5.405,"y":6.39},{"x":5.43,"y":6.385},{"x":5.455,"y":6.375},{"x":5.25,"y":6.36},{"x":5.27,"y":6.365},{"x":5.295,"y":6.365},{"x":5.315,"y":6.365},{"x":5.335,"y":6.37},{"x":5.36,"y":6.37},{"x":5.385,"y":6.365},{"x":5.415,"y":6.38},{"x":5.435,"y":6.36},{"x":5.275,"y":6.34},{"x":5.3,"y":6.34},{"x":5.325,"y":6.34},{"x":5.355,"y":6.34},{"x":5.375,"y":6.35},{"x":5.39,"y":6.345},{"x":5.415,"y":6.33},{"x":5.43,"y":6.34},{"x":5.28,"y":6.325},{"x":5.305,"y":6.31},{"x":5.325,"y":6.32},{"x":5.35,"y":6.305},{"x":5.38,"y":6.32},{"x":5.4,"y":6.32},{"x":5.42,"y":6.305},{"x":5.35,"y":6.33},{"x":5.36,"y":6.33}],
"r":[{"x":0.2,"y":-0.4,"x2":0.2,"y2":0.6},{"x":-0.3,"y":0.1,"x2":0.7,"y2":0.1}],
"k":[{"x":0.06,"y":0.05,"x2":0.18,"y2":0.05},{"x":0.12,"y":-0.012,"x2":0.12,"y2":0.112}],
"r2":[{"x":5.4,"y":6,"x2":5.4,"y2":6.8},{"x":5,"y":6.4,"x2":5.8,"y2":6.4}],
"k2":[{"x":5.266,"y":6.418,"x2":5.42,"y2":6.418},{"x":5.344,"y":6.34,"x2":5.344,"y2":6.495}]},
"resolve":{"scale":{"color":"independent"},"legend":{"color":"independent"}},"spacing":16,
"vconcat":[{"resolve":{"scale":{"color":"independent"},"legend":{"color":"independent"}},"spacing":0,"hconcat":[
{"width":11,"height":1,"view":{"stroke":null},"data":{"values":[{}]},"mark":{"type":"rect","opacity":0},"encoding":{}},
{"resolve":{"scale":{"color":"independent"},"legend":{"color":"independent"}},"spacing":25,"vconcat":[
{"resolve":{"scale":{"color":"independent"},"legend":{"color":"independent"}},"spacing":43,"hconcat":[
{"width":265,"height":245,"title":{"text":"Galaxy","fontSize":22,"offset":13},"data":{"name":"g"},"mark":{"type":"rect","width":{"band":1.04},"height":{"band":1.04},"clip":true},"encoding":{"x":{"field":"x","type":"ordinal","title":null,"axis":{"values":[2,4,6,8,10,12],"labelAngle":0,"labelFontSize":19,"ticks":false,"labelPadding":8}},"y":{"field":"y","type":"ordinal","sort":"descending","title":null,"axis":{"values":[2,4,6,8,10,12],"labelFontSize":19,"ticks":false,"labelPadding":6}},"color":{"field":"v","type":"quantitative","scale":{"domain":[0,223,446,669,893,1116,1339,1562,1785],"range":["#00008f","#0000ff","#0080ff","#00ffff","#80ff80","#ffff00","#ff8000","#ff0000","#800000"]},"legend":{"type":"gradient","title":null,"gradientLength":245,"values":[500,1000,1500],"format":"d"}}}},
{"width":265,"height":245,"title":{"text":"PSF","fontSize":22,"offset":13},"data":{"name":"p"},"mark":{"type":"rect","width":{"band":1.04},"height":{"band":1.04},"clip":true},"encoding":{"x":{"field":"x","type":"ordinal","title":null,"axis":{"values":[2,4,6,8,10,12],"labelAngle":0,"labelFontSize":19,"ticks":false,"labelPadding":8}},"y":{"field":"y","type":"ordinal","sort":"descending","title":null,"axis":{"values":[2,4,6,8,10,12],"labelFontSize":19,"ticks":false,"labelPadding":6}},"color":{"field":"v","type":"quantitative","scale":{"domain":[0,0.01325,0.0265,0.03975,0.053,0.06625,0.0795,0.09275,0.106],"range":["#00008f","#0000ff","#0080ff","#00ffff","#80ff80","#ffff00","#ff8000","#ff0000","#800000"]},"legend":{"type":"gradient","title":null,"gradientLength":245,"values":[0.02,0.04,0.06,0.08,0.1],"format":".2~f"}}}}]},
{"resolve":{"scale":{"color":"independent"},"legend":{"color":"independent"}},"spacing":53,"hconcat":[
{"width":265,"height":245,"title":{"text":"Galaxy*PSF","fontSize":22,"offset":13},"data":{"name":"c"},"mark":{"type":"rect","width":{"band":1.04},"height":{"band":1.04},"clip":true},"encoding":{"x":{"field":"x","type":"ordinal","title":null,"axis":{"values":[2,4,6,8,10,12],"labelAngle":0,"labelFontSize":19,"ticks":false,"labelPadding":8}},"y":{"field":"y","type":"ordinal","sort":"descending","title":null,"axis":{"values":[2,4,6,8,10,12],"labelFontSize":19,"ticks":false,"labelPadding":6}},"color":{"field":"v","type":"quantitative","scale":{"domain":[0.5,25.6,50.6,75.7,100.8,125.8,150.9,175.9,201],"range":["#00008f","#0000ff","#0080ff","#00ffff","#80ff80","#ffff00","#ff8000","#ff0000","#800000"]},"legend":{"type":"gradient","title":null,"gradientLength":245,"values":[50,100,150,200]}}}},
{"width":265,"height":245,"title":{"text":"+ Background + Noise","fontSize":22,"offset":13},"data":{"name":"n"},"mark":{"type":"rect","width":{"band":1.04},"height":{"band":1.04},"clip":true},"encoding":{"x":{"field":"x","type":"ordinal","title":null,"axis":{"values":[2,4,6,8,10,12],"labelAngle":0,"labelFontSize":19,"ticks":false,"labelPadding":8}},"y":{"field":"y","type":"ordinal","sort":"descending","title":null,"axis":{"values":[2,4,6,8,10,12],"labelFontSize":19,"ticks":false,"labelPadding":6}},"color":{"field":"v","type":"quantitative","scale":{"domain":[47,81.4,115.8,150.1,184.5,218.9,253.3,287.6,322],"range":["#00008f","#0000ff","#0080ff","#00ffff","#80ff80","#ffff00","#ff8000","#ff0000","#800000"]},"legend":{"type":"gradient","title":null,"gradientLength":245,"values":[50,100,150,200,250,300]}}}}]}]}]},
{"spacing":0,"hconcat":[
{"width":1,"height":1,"view":{"stroke":null},"data":{"values":[{}]},"mark":{"type":"rect","opacity":0},"encoding":{}},
{"spacing":58,"hconcat":[
{"width":336.5,"height":337,"title":{"text":"Samples","fontSize":13,"offset":9},"encoding":{"x":{"field":"x","type":"quantitative","title":"e₊","scale":{"domain":[-0.3,0.7],"nice":false,"zero":false},"axis":{"values":[-0.2,0,0.2,0.4,0.6],"labelFontSize":13,"tickSize":-4,"tickColor":"#444","labelPadding":5,"titleFontSize":14,"titlePadding":2,"format":".1~f"}},"y":{"field":"y","type":"quantitative","title":"e×","scale":{"domain":[-0.4,0.6],"nice":false,"zero":false},"axis":{"values":[-0.4,-0.3,-0.2,-0.1,0,0.1,0.2,0.3,0.4,0.5,0.6],"labelFontSize":13,"tickSize":-4,"tickColor":"#444","labelPadding":4,"titleFontSize":14,"titlePadding":5,"format":".1~f"}}},"layer":[
{"data":{"name":"s1"},"mark":{"type":"point","shape":"M-1,-1L1,1M-1,1L1,-1","filled":false,"color":"#2030f0","opacity":0.7,"strokeWidth":1.2,"size":28}},
{"data":{"name":"r"},"mark":{"type":"rule","color":"#ff5060","strokeDash":[1.5,3],"strokeWidth":1.5,"opacity":0.8},"encoding":{"x2":{"field":"x2"},"y2":{"field":"y2"}}},
{"data":{"name":"k"},"mark":{"type":"rule","color":"#111","strokeWidth":2},"encoding":{"x2":{"field":"x2"},"y2":{"field":"y2"}}},
{"data":{"values":[{"x":0.2,"y":0.1}]},"mark":{"type":"point","color":"#f03030","strokeWidth":2.5,"size":36,"filled":false,"opacity":1}},
{"data":{"values":[{"x":0,"y":0}]},"mark":{"type":"point","shape":"M-1,0L1,0M0,-1L0,1","color":"#888","strokeWidth":1,"size":16,"filled":false}}]},
{"width":335,"height":339,"view":{"fill":"#fdfdfc"},"title":{"text":"Samples","fontSize":13,"offset":9},"encoding":{"x":{"field":"x","type":"quantitative","title":"Gaussian centre on x−axis, x","scale":{"domain":[5,5.8],"nice":false,"zero":false},"axis":{"values":[5,5.2,5.4,5.6,5.8],"labelFontSize":13,"tickSize":-4,"tickColor":"#444","labelPadding":6,"titleFontSize":13,"titlePadding":3,"format":".1~f"}},"y":{"field":"y","type":"quantitative","title":"Gaussian centre on y−axis, y","scale":{"domain":[6,6.8],"nice":false,"zero":false},"axis":{"values":[6,6.1,6.2,6.3,6.4,6.5,6.6,6.7,6.8],"labelFontSize":13,"tickSize":-4,"tickColor":"#444","labelPadding":3,"titleFontSize":13,"titlePadding":6,"format":".1~f"}}},"layer":[
{"data":{"name":"s2"},"mark":{"type":"point","shape":"M-1,-1L1,1M-1,1L1,-1","filled":false,"color":"#2030f0","opacity":0.7,"strokeWidth":1.2,"size":28}},
{"data":{"name":"r2"},"mark":{"type":"rule","color":"#ff5060","strokeDash":[1.5,3],"strokeWidth":1.5,"opacity":0.8},"encoding":{"x2":{"field":"x2"},"y2":{"field":"y2"}}},
{"data":{"name":"k2"},"mark":{"type":"rule","color":"#111","strokeWidth":2},"encoding":{"x2":{"field":"x2"},"y2":{"field":"y2"}}},
{"data":{"values":[{"x":5.4,"y":6.4}]},"mark":{"type":"point","color":"#f03030","strokeWidth":2.5,"size":36,"filled":false,"opacity":1}}]}]}]}]}
